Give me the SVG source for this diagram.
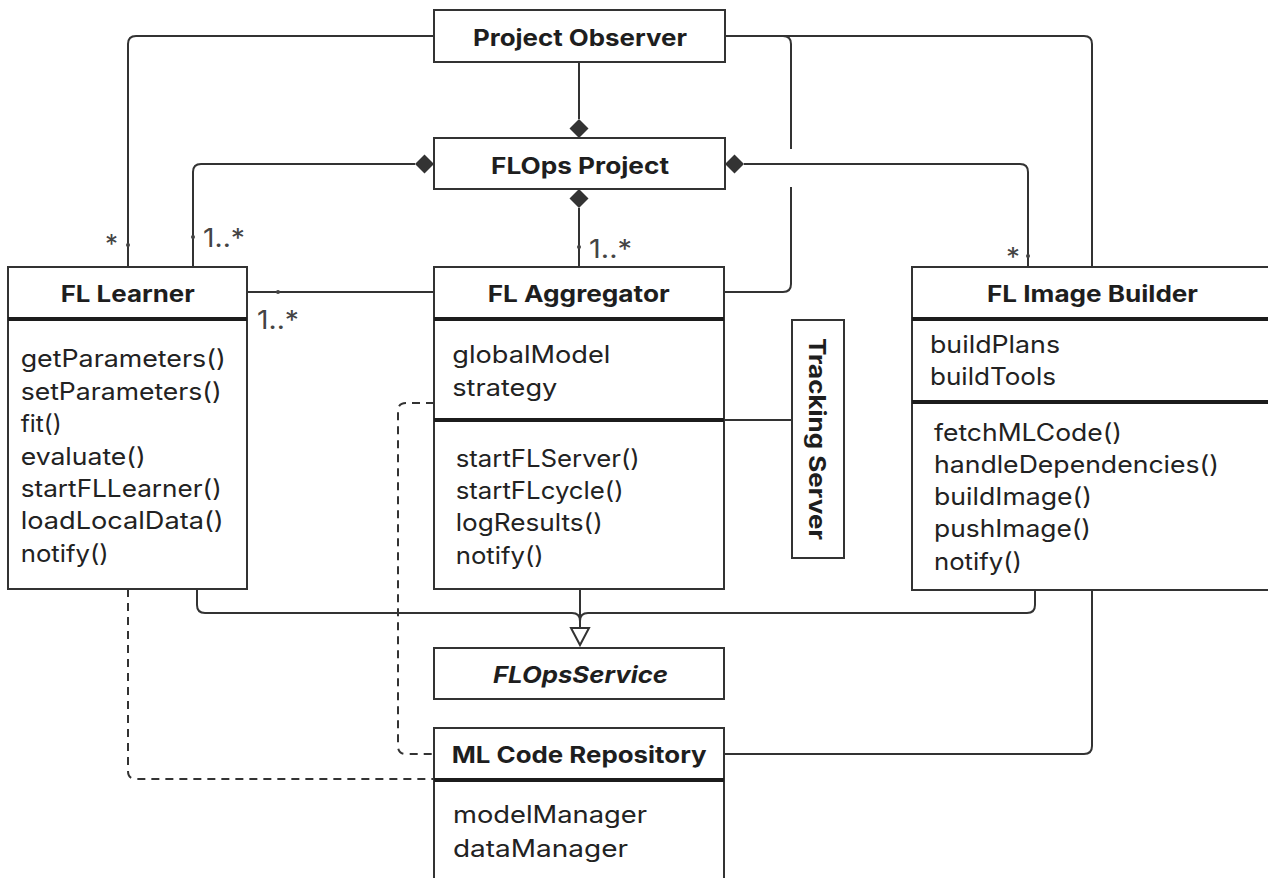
<svg xmlns="http://www.w3.org/2000/svg" width="1268" height="878" viewBox="0 0 1268 878">
<style>
.box{fill:#fff;stroke:#333;stroke-width:2}
.sep{stroke:#1c1c1c;stroke-width:4}
.h{font-family:Inter,"Liberation Sans",sans-serif;font-weight:700;font-size:23px;fill:#1e1e1e}
.t{font-family:Inter,"Liberation Sans",sans-serif;font-size:24px;fill:#222}
.m{font-family:Inter,"Liberation Sans",sans-serif;font-size:26px;fill:#444}
.c{fill:none;stroke:#333;stroke-width:2}
.d{stroke-dasharray:8 6}
.dia{fill:#333;stroke:none}
.dot{fill:#444}
</style>
<rect width="1268" height="878" fill="#fff"/>
<g id="connectors">
  <path class="c" d="M434,36 H136 Q128,36 128,44 V267"/>
  <path class="c" d="M725,36 H1084 Q1092,36 1092,44 V267"/>
  <path class="c" d="M783,36 Q791,36 791,44 V149 M791,187 V284 Q791,292 783,292 H724"/>
  <path class="c" d="M579,62 V119"/>
  <polygon class="dia" points="579,119 588.5,128.5 579,138 569.5,128.5"/>
  <path class="c" d="M415,164 H201 Q193,164 193,172 V267"/>
  <polygon class="dia" points="434,164 424.5,154.5 415,164 424.5,173.5"/>
  <path class="c" d="M579,208 V267"/>
  <polygon class="dia" points="579,189 588.5,198.5 579,208 569.5,198.5"/>
  <path class="c" d="M744,164 H1020 Q1028,164 1028,172 V267"/>
  <polygon class="dia" points="725,164 734.5,154.5 744,164 734.5,173.5"/>
  <path class="c" d="M247,292 H434"/>
  <path class="c" d="M724,420 H792"/>
  <path class="c" d="M197,589 V605 Q197,613 205,613 H572 Q580,613 580,621"/>
  <path class="c" d="M1035,589 V605 Q1035,613 1027,613 H588 Q580,613 580,621"/>
  <path class="c" d="M580,589 V628"/>
  <polygon points="571,628 589,628 580,645" fill="#fff" stroke="#333" stroke-width="2" stroke-linejoin="miter"/>
  <path class="c d" d="M434,403 H406 Q398,403 398,411 V746 Q398,754 406,754 H434"/>
  <path class="c d" d="M128,589 V771 Q128,779 136,779 H434"/>
  <path class="c" d="M1092,590 V746 Q1092,754 1084,754 H724"/>
  <circle class="dot" cx="128" cy="245" r="2"/>
  <circle class="dot" cx="193" cy="237" r="2"/>
  <circle class="dot" cx="579" cy="247" r="2"/>
  <circle class="dot" cx="1028" cy="256" r="2"/>
  <circle class="dot" cx="278" cy="292" r="2"/>
  <text class="m" x="105" y="253" textLength="13" lengthAdjust="spacingAndGlyphs">*</text>
  <text class="m" x="203" y="247" textLength="42" lengthAdjust="spacingAndGlyphs">1..*</text>
  <text class="m" x="589" y="258" textLength="43" lengthAdjust="spacingAndGlyphs">1..*</text>
  <text class="m" x="1006" y="266" textLength="14" lengthAdjust="spacingAndGlyphs">*</text>
  <text class="m" x="257" y="329" textLength="42" lengthAdjust="spacingAndGlyphs">1..*</text>
</g>
<g id="project-observer">
  <rect class="box" x="434" y="10" width="291" height="52"/>
  <text class="h" x="473" y="45.5" textLength="214" lengthAdjust="spacingAndGlyphs">Project Observer</text>
</g>
<g id="flops-project">
  <rect class="box" x="434" y="138" width="291" height="51"/>
  <text class="h" x="491" y="174.3" textLength="178" lengthAdjust="spacingAndGlyphs">FLOps Project</text>
</g>
<g id="fl-learner">
  <rect class="box" x="8" y="267" width="239" height="322"/>
  <line class="sep" x1="8" y1="319" x2="247" y2="319"/>
  <text class="h" x="60.7" y="301.7" textLength="134" lengthAdjust="spacingAndGlyphs">FL Learner</text>
  <text class="t" x="20.7" y="367.3" textLength="205" lengthAdjust="spacingAndGlyphs">getParameters()</text>
  <text class="t" x="20.7" y="399.7" textLength="201" lengthAdjust="spacingAndGlyphs">setParameters()</text>
  <text class="t" x="20.7" y="432.1" textLength="41" lengthAdjust="spacingAndGlyphs">fit()</text>
  <text class="t" x="20.7" y="464.5" textLength="125" lengthAdjust="spacingAndGlyphs">evaluate()</text>
  <text class="t" x="20.7" y="496.9" textLength="201" lengthAdjust="spacingAndGlyphs">startFLLearner()</text>
  <text class="t" x="20.7" y="529.3" textLength="203" lengthAdjust="spacingAndGlyphs">loadLocalData()</text>
  <text class="t" x="20.7" y="561.7" textLength="88" lengthAdjust="spacingAndGlyphs">notify()</text>
</g>
<g id="fl-aggregator">
  <rect class="box" x="434" y="267" width="290" height="322"/>
  <line class="sep" x1="434" y1="319" x2="724" y2="319"/>
  <line class="sep" x1="434" y1="420" x2="724" y2="420"/>
  <text class="h" x="487.7" y="301.7" textLength="182" lengthAdjust="spacingAndGlyphs">FL Aggregator</text>
  <text class="t" x="452.3" y="363.3" textLength="158" lengthAdjust="spacingAndGlyphs">globalModel</text>
  <text class="t" x="452.3" y="395.7" textLength="105" lengthAdjust="spacingAndGlyphs">strategy</text>
  <text class="t" x="455.7" y="466.7" textLength="184" lengthAdjust="spacingAndGlyphs">startFLServer()</text>
  <text class="t" x="455.7" y="499" textLength="168" lengthAdjust="spacingAndGlyphs">startFLcycle()</text>
  <text class="t" x="455.7" y="531.3" textLength="147" lengthAdjust="spacingAndGlyphs">logResults()</text>
  <text class="t" x="455.7" y="563.5" textLength="88" lengthAdjust="spacingAndGlyphs">notify()</text>
</g>
<g id="tracking-server">
  <rect class="box" x="792" y="320" width="52" height="238"/>
  <text class="h" transform="translate(809,439) rotate(90)" x="0" y="0" text-anchor="middle" font-size="25" textLength="202" lengthAdjust="spacingAndGlyphs">Tracking Server</text>
</g>
<g id="fl-image-builder">
  <rect class="box" x="912" y="267" width="362" height="323"/>
  <line class="sep" x1="912" y1="319" x2="1274" y2="319"/>
  <line class="sep" x1="912" y1="402" x2="1274" y2="402"/>
  <text class="h" x="987" y="301.7" textLength="211" lengthAdjust="spacingAndGlyphs">FL Image Builder</text>
  <text class="t" x="930" y="353" textLength="130" lengthAdjust="spacingAndGlyphs">buildPlans</text>
  <text class="t" x="930" y="385" textLength="126" lengthAdjust="spacingAndGlyphs">buildTools</text>
  <text class="t" x="934" y="440.7" textLength="188" lengthAdjust="spacingAndGlyphs">fetchMLCode()</text>
  <text class="t" x="934" y="472.9" textLength="285" lengthAdjust="spacingAndGlyphs">handleDependencies()</text>
  <text class="t" x="934" y="505.2" textLength="158" lengthAdjust="spacingAndGlyphs">buildImage()</text>
  <text class="t" x="934" y="537.4" textLength="157" lengthAdjust="spacingAndGlyphs">pushImage()</text>
  <text class="t" x="934" y="569.7" textLength="88" lengthAdjust="spacingAndGlyphs">notify()</text>
</g>
<g id="flops-service">
  <rect class="box" x="434" y="648" width="290" height="51"/>
  <text class="h" x="493" y="683" font-style="italic" textLength="175" lengthAdjust="spacingAndGlyphs">FLOpsService</text>
</g>
<g id="ml-code-repository">
  <rect class="box" x="434" y="728" width="290" height="180"/>
  <line class="sep" x1="434" y1="780" x2="724" y2="780"/>
  <text class="h" x="451.7" y="763" textLength="255" lengthAdjust="spacingAndGlyphs">ML Code Repository</text>
  <text class="t" x="453" y="823" textLength="194" lengthAdjust="spacingAndGlyphs">modelManager</text>
  <text class="t" x="453" y="856.5" textLength="175" lengthAdjust="spacingAndGlyphs">dataManager</text>
</g>
</svg>
